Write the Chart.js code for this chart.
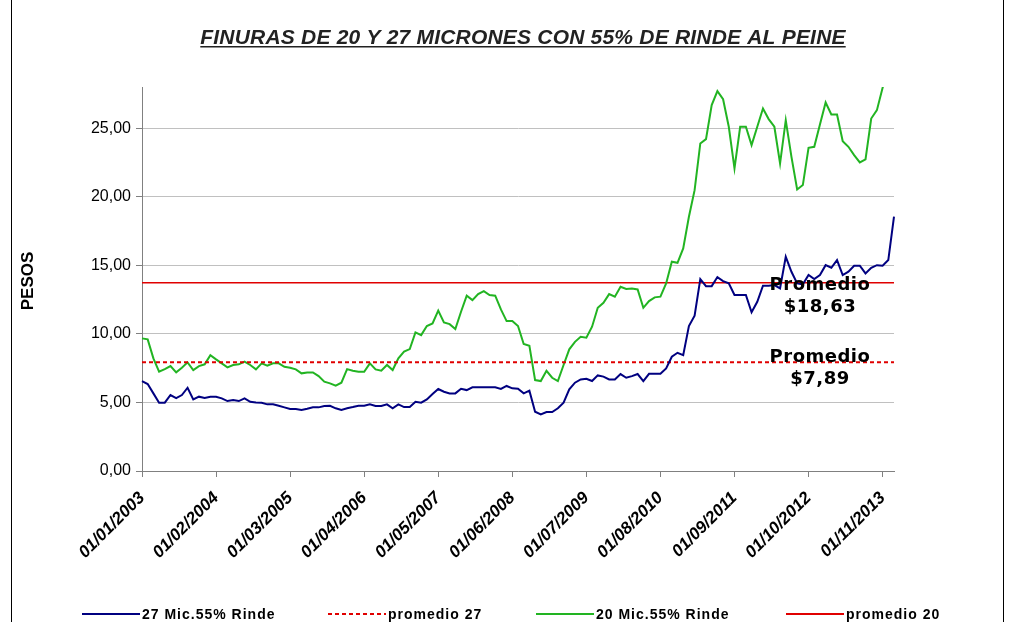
<!DOCTYPE html>
<html>
<head>
<meta charset="utf-8">
<script src="https://cdn.jsdelivr.net/npm/chart.js@4.4.1/dist/chart.umd.min.js"></script>
<style>
  html, body { margin:0; padding:0; background:#fff; }
  #wrap { width:1013px; height:622px; }
</style>
</head>
<body>
<div id="wrap"><canvas id="c" width="1013" height="622"></canvas></div>
<script>
// monthly prices, 01/2003 .. 01/2014
const tickLabels = ["01/01/2003","01/02/2004","01/03/2005","01/04/2006","01/05/2007","01/06/2008",
  "01/07/2009","01/08/2010","01/09/2011","01/10/2012","01/11/2013"];

const mic27 = [6.56,6.34,5.66,4.98,4.98,5.54,5.32,5.54,6.07,5.22,5.42,5.32,5.42,5.42,5.30,5.10,5.17,5.10,5.30,5.05,
  5.00,4.98,4.86,4.86,4.76,4.64,4.52,4.52,4.45,4.54,4.64,4.64,4.74,4.76,4.57,4.45,4.57,4.66,4.76,4.76,
  4.86,4.74,4.74,4.86,4.57,4.86,4.66,4.66,5.05,4.98,5.22,5.61,5.98,5.78,5.66,5.66,6.00,5.90,6.10,6.10,
  6.10,6.10,6.10,5.98,6.20,6.03,6.00,5.66,5.86,4.32,4.13,4.30,4.30,4.57,4.98,5.95,6.44,6.68,6.73,6.56,
  6.97,6.88,6.68,6.68,7.07,6.80,6.92,7.07,6.56,7.09,7.09,7.09,7.48,8.33,8.62,8.45,10.57,11.32,13.99,13.48,
  13.48,14.14,13.85,13.68,12.83,12.83,12.83,11.57,12.34,13.51,13.51,13.56,13.31,15.62,14.53,13.68,13.61,14.29,13.99,14.29,
  15.01,14.82,15.38,14.29,14.53,14.97,14.97,14.41,14.82,15.01,14.97,15.38,18.54];

const mic20 = [9.67,9.60,8.21,7.24,7.43,7.65,7.19,7.53,7.92,7.36,7.65,7.78,8.45,8.14,7.85,7.56,7.73,7.78,7.97,7.73,
  7.41,7.85,7.68,7.85,7.85,7.60,7.53,7.41,7.12,7.19,7.19,6.92,6.51,6.39,6.22,6.44,7.43,7.31,7.24,7.24,
  7.85,7.41,7.31,7.73,7.36,8.21,8.70,8.89,10.11,9.91,10.57,10.76,11.69,10.84,10.71,10.35,11.61,12.78,12.46,12.90,
  13.12,12.83,12.78,11.78,10.93,10.93,10.57,9.26,9.13,6.63,6.56,7.31,6.80,6.56,7.73,8.87,9.42,9.79,9.72,10.52,
  11.90,12.27,12.90,12.71,13.43,13.27,13.31,13.24,11.90,12.39,12.66,12.71,13.68,15.26,15.18,16.23,18.54,20.48,23.88,24.20,
  26.68,27.70,27.11,25.10,22.06,25.10,25.10,23.76,25.10,26.43,25.66,25.10,22.42,25.58,22.91,20.53,20.85,23.57,23.64,25.27,
  26.87,26.00,26.00,24.05,23.64,23.03,22.50,22.72,25.70,26.31,27.95,29.00,30.00];

const avg27 = 7.93;
const avg20 = 13.72;
const avgText27 = ["Promedio", "$7,89"];
const avgText20 = ["Promedio", "$18,63"];

const months = [];
for (let y = 2003; months.length < mic27.length; y++) {
  for (let m = 1; m <= 12 && months.length < mic27.length; m++) {
    months.push("01/" + String(m).padStart(2,"0") + "/" + y);
  }
}

const AXIS = "#808080";
const GRID = "#c0c0c0";

const decor = {
  id: "decor",
  beforeDraw(chart){
    const ctx = chart.ctx;
    ctx.save();
    ctx.fillStyle = "#fff";
    ctx.fillRect(0,0,chart.width,chart.height);
    ctx.restore();
  },
  afterDraw(chart){
    const ctx = chart.ctx;
    const y = chart.scales.y;
    ctx.save();

    // frame
    ctx.strokeStyle = "#000";
    ctx.lineWidth = 1;
    ctx.beginPath();
    ctx.moveTo(11.5,0); ctx.lineTo(11.5,chart.height);
    ctx.moveTo(1003.5,0); ctx.lineTo(1003.5,chart.height);
    ctx.stroke();

    // title, underlined
    const title = "FINURAS DE 20 Y 27 MICRONES CON 55% DE RINDE AL PEINE";
    ctx.font = "italic bold 21px 'Liberation Sans', Arial, sans-serif";
    ctx.letterSpacing = "0.2px";
    ctx.fillStyle = "#222";
    ctx.textAlign = "center";
    ctx.textBaseline = "alphabetic";
    const tw = ctx.measureText(title).width;
    ctx.fillText(title, 523, 44);
    ctx.fillRect(523 - tw/2, 46, tw, 1.5);
    ctx.letterSpacing = "0px";

    // y title
    ctx.save();
    ctx.translate(28, 281);
    ctx.rotate(-Math.PI/2);
    ctx.font = "bold 17px 'Liberation Sans', Arial, sans-serif";
    ctx.fillStyle = "#000";
    ctx.textAlign = "center";
    ctx.textBaseline = "middle";
    ctx.fillText("PESOS", 0, 0);
    ctx.restore();

    // average labels
    ctx.font = "bold 18px 'DejaVu Sans', sans-serif";
    ctx.letterSpacing = "0.5px";
    ctx.fillStyle = "#000";
    ctx.textAlign = "center";
    ctx.textBaseline = "middle";
    const p20 = y.getPixelForValue(avg20);
    ctx.fillText(avgText20[0], 820, p20 + 2);
    ctx.fillText(avgText20[1], 820, p20 + 24);
    const p27 = y.getPixelForValue(avg27);
    ctx.fillText(avgText27[0], 820, p27 - 5);
    ctx.fillText(avgText27[1], 820, p27 + 17);

    // legend
    const starts = [82, 328, 536, 786];
    const ly = 614;
    ctx.font = "bold 14px 'Liberation Sans', Arial, sans-serif";
    ctx.letterSpacing = "1px";
    ctx.textAlign = "left";
    chart.data.datasets.forEach((ds, i) => {
      const x0 = starts[i];
      ctx.strokeStyle = ds.borderColor;
      ctx.lineWidth = 2;
      ctx.setLineDash(ds.borderDash || []);
      ctx.beginPath();
      ctx.moveTo(x0, ly); ctx.lineTo(x0 + 58, ly);
      ctx.stroke();
      ctx.setLineDash([]);
      ctx.fillStyle = "#000";
      ctx.fillText(ds.label, x0 + 60, ly + 1);
    });
    ctx.restore();
  }
};

new Chart(document.getElementById("c"), {
  type: "line",
  data: {
    labels: months,
    datasets: [
      { label: "27 Mic.55% Rinde", data: mic27, borderColor: "#000080", borderWidth: 2 },
      { label: "promedio 27", data: months.map(() => avg27), borderColor: "#e00000", borderWidth: 2, borderDash: [4,3] },
      { label: "20 Mic.55% Rinde", data: mic20, borderColor: "#22b422", borderWidth: 2 },
      { label: "promedio 20", data: months.map(() => avg20), borderColor: "#e00000", borderWidth: 1.5 }
    ]
  },
  options: {
    responsive: false,
    animation: false,
    devicePixelRatio: 1,
    layout: { padding: { top: 87, right: 119, left: 0, bottom: 0 } },
    elements: { point: { radius: 0 }, line: { tension: 0, fill: false } },
    plugins: { legend: { display: false }, tooltip: { enabled: false }, title: { display: false } },
    scales: {
      x: {
        offset: false,
        grid: { drawOnChartArea: false, drawTicks: true, tickLength: 6, color: AXIS },
        border: { display: true, color: AXIS },
        ticks: {
          autoSkip: false, maxRotation: 45, minRotation: 45, padding: 11,
          color: "#000",
          font: { family: "'Liberation Sans', Arial, sans-serif", size: 17, weight: "bold", style: "italic" },
          callback: (v, i) => i % 13 === 0 ? tickLabels[i / 13] : null
        },
        afterFit: s => { s.height = 151; }
      },
      y: {
        min: 0, max: 28,
        grid: { color: GRID, drawTicks: true, tickLength: 6, tickColor: AXIS },
        border: { display: true, color: AXIS },
        ticks: {
          stepSize: 5, padding: 5, color: "#000",
          font: { family: "'Liberation Sans', Arial, sans-serif", size: 16 },
          callback: v => v % 5 === 0 ? v.toFixed(2).replace(".", ",") : null
        },
        afterFit: s => { s.width = 142; }
      }
    }
  },
  plugins: [decor]
});
</script>
</body>
</html>
